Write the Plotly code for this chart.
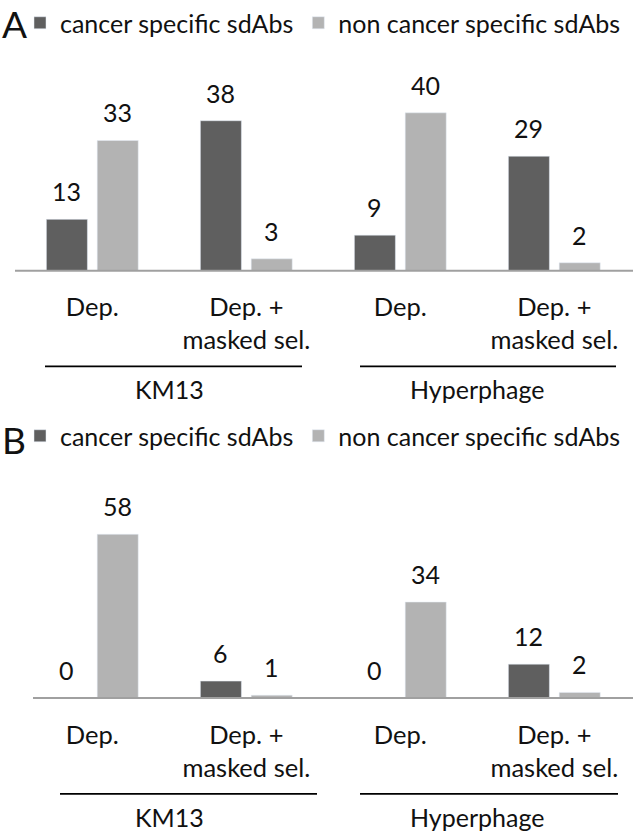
import plotly.graph_objects as go

# ---------------- data ----------------
conditions = ["Dep.", "Dep. +<br>masked sel.", "Dep.", "Dep. +<br>masked sel."]
libraries = ["KM13", "Hyperphage"]
series_names = ["cancer specific sdAbs", "non cancer specific sdAbs"]

cancer_A = [13, 38, 9, 29]
noncancer_A = [33, 3, 40, 2]
cancer_B = [0, 6, 0, 12]
noncancer_B = [58, 1, 34, 2]

panel_letters = ["A", "B"]

# ---------------- style ----------------
W, H = 633, 835
DARK = "#5f5f5f"
LIGHT = "#b3b3b3"
AXIS = "#a0a0a0"
TXT = "#111111"
FONT = "Lato"
FS = 25
TFS = 25.5

xpos = list(range(len(conditions)))


def py(px):
    """pixel (from top) -> paper y"""
    return 1 - px / H


def pxx(px):
    return px / W


fig = go.Figure()

panels = [
    dict(c=cancer_A, n=noncancer_A, xa="x", ya="y", base=269.3, top=60, k=3.955, leg="legend", line_x0=15),
    dict(c=cancer_B, n=noncancer_B, xa="x2", ya="y2", base=697.7, top=470, k=2.83, leg="legend2", line_x0=33),
]

for i, p in enumerate(panels):
    fig.add_trace(go.Bar(x=xpos, y=p["c"], name=series_names[0], marker_color=DARK,
                         xaxis=p["xa"], yaxis=p["ya"], legend=p["leg"]))
    fig.add_trace(go.Bar(x=xpos, y=p["n"], name=series_names[1], marker_color=LIGHT,
                         xaxis=p["xa"], yaxis=p["ya"], legend=p["leg"]))

annotations = []
shapes = []
half = 25.4
for i, p in enumerate(panels):
    yref = p["ya"]
    xref = p["xa"]
    for vals, sh in ((p["c"], -half), (p["n"], half)):
        for xi, v in zip(xpos, vals):
            annotations.append(dict(x=xi, y=v, xref=xref, yref=yref, text=str(v),
                                    showarrow=False, xshift=sh, yshift=11, yanchor="bottom",
                                    font=dict(family=FONT, size=FS, color=TXT)))

layout_axes = {}
for i, p in enumerate(panels):
    suffix = "" if i == 0 else str(i + 1)
    ymax = (p["base"] - p["top"]) / p["k"]
    layout_axes["xaxis" + suffix] = dict(
        domain=[pxx(15.3), pxx(631.3)], range=[-0.5, 3.5], tickvals=xpos, ticktext=conditions,
        showline=False, ticks="", showgrid=False, zeroline=False, ticklabelstandoff=19,
        tickfont=dict(family=FONT, size=TFS, color=TXT), anchor="y" + suffix, fixedrange=True)
    layout_axes["yaxis" + suffix] = dict(
        domain=[py(p["base"]), py(p["top"])], range=[0, ymax], visible=False,
        anchor="x" + suffix, fixedrange=True)
    # baseline (category axis line)
    shapes.append(dict(type="line", xref="paper", yref="paper", x0=pxx(p["line_x0"]), x1=1,
                       y0=py(p["base"]), y1=py(p["base"]), line=dict(color=AXIS, width=2)))

# group lines and group labels
group_lines = {
    0: [(45, 302), (360, 616)],
    1: [(60, 317), (360, 618)],
}
for i, p in enumerate(panels):
    ly = p["base"] + 96
    for (x0, x1) in group_lines[i]:
        shapes.append(dict(type="line", xref="paper", yref="paper", x0=pxx(x0), x1=pxx(x1),
                           y0=py(ly), y1=py(ly), line=dict(color="#000000", width=1.8)))
    for gi, lib in enumerate(libraries):
        annotations.append(dict(x=2 * gi + 0.5, y=py(p["base"] + 136), xref=p["xa"], yref="paper",
                                text=lib, showarrow=False, yanchor="bottom",
                                font=dict(family=FONT, size=FS, color=TXT)))

# panel letters
for i, (letter, ytop) in enumerate(zip(panel_letters, [-3, 414])):
    annotations.append(dict(x=pxx(0), y=py(ytop), xref="paper", yref="paper", text=letter,
                            showarrow=False, xanchor="left", yanchor="top",
                            font=dict(family=FONT, size=37, color=TXT)))

legend_common = dict(orientation="h", xanchor="left", yanchor="top", bgcolor="rgba(0,0,0,0)",
                     font=dict(family=FONT, size=FS, color=TXT), traceorder="normal",
                     itemclick=False, itemdoubleclick=False)

fig.update_layout(
    width=W, height=H, margin=dict(l=0, r=0, t=0, b=0),
    paper_bgcolor="white", plot_bgcolor="white",
    barmode="group", bargap=0.34, bargroupgap=0.193,
    showlegend=True,
    legend=dict(x=pxx(20), y=py(-2), **legend_common),
    legend2=dict(x=pxx(20), y=py(412), **legend_common),
    annotations=annotations, shapes=shapes,
    **layout_axes,
)

fig.write_html("out.html", post_script="document.body.style.margin='0';",
               config={"displayModeBar": False})
